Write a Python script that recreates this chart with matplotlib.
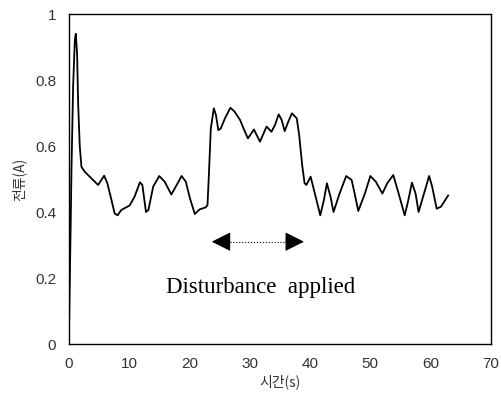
import matplotlib.pyplot as plt

plt.rcParams['font.family'] = ['Noto Sans CJK KR', 'DejaVu Sans']

# current response
time_s = [0.0, 0.33, 0.45, 0.72, 1.0, 1.16, 1.38, 1.55, 1.82, 2.1, 2.65,
          4.86, 5.86, 6.4, 7.08, 7.6, 8.1, 8.7, 10.1, 10.9, 11.8, 12.2,
          12.8, 13.2, 14.0, 15.0, 15.9, 17.0, 17.9, 18.7, 19.4, 20.1, 20.9,
          21.7, 22.7, 23.0, 23.2, 23.55, 24.05, 24.4, 24.8, 25.2, 25.9, 26.8,
          27.5, 28.4, 29.1, 29.7, 30.7, 31.7, 32.8, 33.6, 34.2, 34.8, 35.3,
          35.8, 36.4, 37.0, 37.8, 38.2, 38.7, 39.1, 39.4, 40.1, 40.8, 41.7,
          42.3, 42.8, 43.4, 43.9, 44.9, 46.0, 46.9, 47.4, 48.0, 49.1, 50.0,
          50.9, 52.0, 52.8, 53.8, 54.6, 55.7, 56.3, 56.9, 57.5, 58.0, 58.9,
          59.75, 60.25, 61.0, 61.7, 62.9]
current_a = [0.0, 0.376, 0.53, 0.78, 0.92, 0.94, 0.88, 0.73, 0.60, 0.537,
             0.522, 0.482, 0.51, 0.487, 0.436, 0.396, 0.39, 0.406, 0.42,
             0.446, 0.49, 0.482, 0.40, 0.406, 0.477, 0.509, 0.492, 0.453,
             0.482, 0.509, 0.492, 0.441, 0.394, 0.408, 0.414, 0.421, 0.50,
             0.653, 0.714, 0.694, 0.648, 0.653, 0.684, 0.716, 0.704, 0.679,
             0.648, 0.623, 0.65, 0.613, 0.659, 0.643, 0.664, 0.696, 0.679,
             0.645, 0.674, 0.699, 0.684, 0.633, 0.542, 0.487, 0.482, 0.507,
             0.456, 0.39, 0.436, 0.487, 0.446, 0.40, 0.456, 0.509, 0.497,
             0.456, 0.403, 0.456, 0.509, 0.492, 0.456, 0.487, 0.512, 0.462,
             0.39, 0.436, 0.489, 0.456, 0.40, 0.456, 0.509, 0.477, 0.41,
             0.416, 0.45]

disturb_start = 23.7
disturb_end = 39.0

fig = plt.figure(figsize=(5.02, 4.0), dpi=100)
ax = fig.add_axes([0.137, 0.14, 0.841, 0.825])

ax.plot(time_s, current_a, color='black', linewidth=1.3)

ax.set_xlim(0, 70)
ax.set_ylim(0, 1)
ax.set_xticks(range(0, 71, 10))
ax.set_yticks([0, 0.2, 0.4, 0.6, 0.8, 1])
ax.set_yticklabels(['0', '0.2', '0.4', '0.6', '0.8', '1'])
ax.tick_params(length=0, labelsize=11, colors='#333333', pad=9)
for lbl in ax.get_xticklabels() + ax.get_yticklabels():
    lbl.set_family('Liberation Sans')
for s in ax.spines.values():
    s.set_linewidth(1.0)

ax.set_xlabel('시간(s)', fontsize=10, color='#333333', labelpad=3)
ax.set_ylabel('전류(A)', fontsize=10, color='#333333', labelpad=6)

# disturbance marker
ax.plot([disturb_start + 2, disturb_end - 2], [0.31, 0.31], color='black',
        linestyle=':', linewidth=0.8)
ax.annotate('', xy=(disturb_start, 0.31), xytext=(disturb_start + 3, 0.31),
            arrowprops=dict(arrowstyle='-|>', color='black', lw=0.8,
                            mutation_scale=30, shrinkA=0, shrinkB=0))
ax.annotate('', xy=(disturb_end, 0.31), xytext=(disturb_end - 3, 0.31),
            arrowprops=dict(arrowstyle='-|>', color='black', lw=0.8,
                            mutation_scale=30, shrinkA=0, shrinkB=0))
ax.text(31.8, 0.17, 'Disturbance  applied', fontsize=16.5, ha='center',
        va='center', family='Liberation Serif')

fig.savefig('out.png', dpi=100)
